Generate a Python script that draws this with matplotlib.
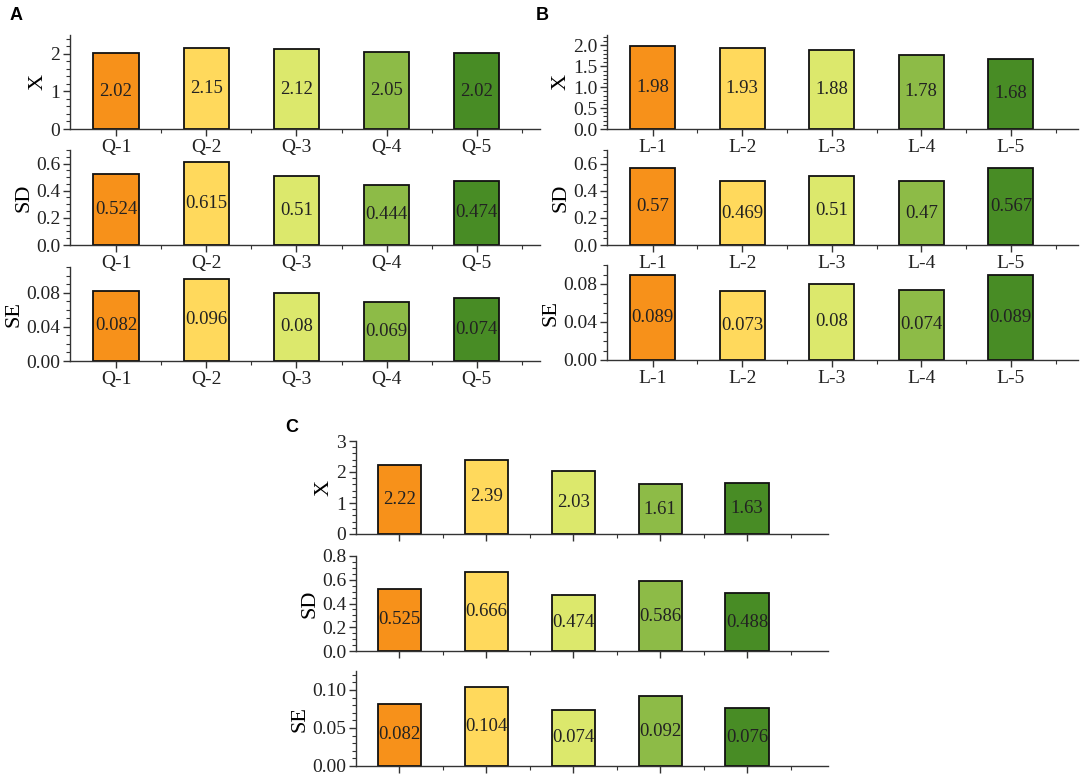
import matplotlib.pyplot as plt
from matplotlib.ticker import AutoMinorLocator, MultipleLocator, FixedLocator

# Datos
q_labels = ['Q-1', 'Q-2', 'Q-3', 'Q-4', 'Q-5']
q_x = [2.02, 2.15, 2.12, 2.05, 2.02]
q_sd = [0.524, 0.615, 0.51, 0.444, 0.474]
q_se = [0.082, 0.096, 0.08, 0.069, 0.074]

l_labels = ['L-1', 'L-2', 'L-3', 'L-4', 'L-5']
l_x = [1.98, 1.93, 1.88, 1.78, 1.68]
l_sd = [0.57, 0.469, 0.51, 0.47, 0.567]
l_se = [0.089, 0.073, 0.08, 0.074, 0.089]

c_x = [2.22, 2.39, 2.03, 1.61, 1.63]
c_sd = [0.525, 0.666, 0.474, 0.586, 0.488]
c_se = [0.082, 0.104, 0.074, 0.092, 0.076]

colores = ['#F7911A', '#FFD95C', '#DCE86C', '#8DBB47', '#488C25']

plt.rcParams['font.family'] = ['Liberation Serif', 'DejaVu Serif']

fig = plt.figure(figsize=(10.84, 7.78), dpi=100)
W, H = 1084, 778


def crear_ejes(left, right, top, bottom):
    ax = fig.add_axes([left / W, 1 - bottom / H, (right - left) / W, (bottom - top) / H])
    ax.patch.set_visible(False)  # para que no tape las etiquetas del eje de arriba
    return ax


def dibujar(ax, valores, ylabel, ylim, paso, xlim, etiquetas=None):
    pos = range(1, len(valores) + 1)
    ax.bar(pos, valores, width=0.5, color=colores, edgecolor='#111111', linewidth=1.3)
    for p, v in zip(pos, valores):
        ax.text(p, v / 2, f'{v:g}', ha='center', va='center', fontsize=13.5, color='#222222')
    ax.set_ylim(*ylim)
    ax.set_xlim(*xlim)
    ax.yaxis.set_major_locator(MultipleLocator(paso))
    ax.yaxis.set_minor_locator(AutoMinorLocator())
    ax.set_xticks(list(pos))
    ax.xaxis.set_minor_locator(FixedLocator([1.5, 2.5, 3.5, 4.5, 5.5]))
    if etiquetas is not None:
        ax.set_xticklabels(etiquetas)
    else:
        ax.set_xticklabels([])
    ax.set_ylabel(ylabel, fontsize=16, labelpad=2)
    for lado in ['top', 'right']:
        ax.spines[lado].set_visible(False)
    for lado in ['left', 'bottom']:
        ax.spines[lado].set_color('#333333')
        ax.spines[lado].set_linewidth(1.0)
    ax.tick_params(which='major', direction='out', length=5, width=1, labelsize=14,
                   color='#333333', labelcolor='#222222', pad=2)
    ax.tick_params(which='minor', direction='out', length=3, width=0.8, color='#333333')


# Panel A
a1 = crear_ejes(70, 540, 35, 129)
a2 = crear_ejes(70, 540, 150, 245)
a3 = crear_ejes(70, 540, 267, 361)
dibujar(a1, q_x, 'X', (0, 2.5), 1, (0.49, 5.7), q_labels)
dibujar(a2, q_sd, 'SD', (0, 0.7), 0.2, (0.49, 5.7), q_labels)
dibujar(a3, q_se, 'SE', (0, 0.11), 0.04, (0.49, 5.7), q_labels)
a3.yaxis.set_major_formatter(plt.FormatStrFormatter('%.2f'))

# Panel B
b1 = crear_ejes(607, 1078, 35, 129)
b2 = crear_ejes(607, 1078, 150, 245)
b3 = crear_ejes(607, 1078, 265, 360)
dibujar(b1, l_x, 'X', (0, 2.25), 0.5, (0.49, 5.75), l_labels)
dibujar(b2, l_sd, 'SD', (0, 0.7), 0.2, (0.49, 5.75), l_labels)
dibujar(b3, l_se, 'SE', (0, 0.1), 0.04, (0.49, 5.75), l_labels)
b1.yaxis.set_major_formatter(plt.FormatStrFormatter('%.1f'))
b3.yaxis.set_major_formatter(plt.FormatStrFormatter('%.2f'))

# Panel C
c1 = crear_ejes(356, 828, 441, 534)
c2 = crear_ejes(356, 828, 556, 651)
c3 = crear_ejes(356, 828, 671, 766)
dibujar(c1, c_x, 'X', (0, 3), 1, (0.5, 5.93))
dibujar(c2, c_sd, 'SD', (0, 0.8), 0.2, (0.5, 5.93))
dibujar(c3, c_se, 'SE', (0, 0.125), 0.05, (0.5, 5.93))
c2.yaxis.set_major_formatter(plt.FormatStrFormatter('%.1f'))
c3.yaxis.set_major_formatter(plt.FormatStrFormatter('%.2f'))

# Letras de los paneles
for letra, x, y in [('A', 10, 16), ('B', 536, 16), ('C', 285, 428)]:
    fig.text(x / W, 1 - y / H, letra, fontsize=13, fontweight='bold',
             family='Liberation Sans', ha='left', va='center')

plt.savefig('out.png', dpi=100)
